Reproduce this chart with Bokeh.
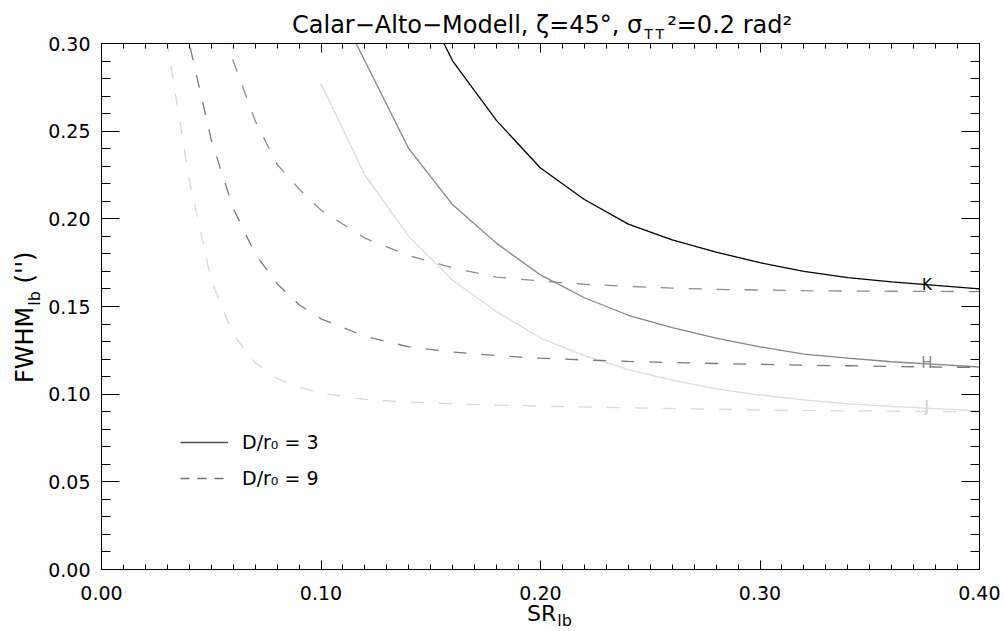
from bokeh.plotting import figure
from bokeh.layouts import column
from bokeh.models import (Range1d, LinearAxis, FixedTicker, Legend, LegendItem, Div,
                          PrintfTickFormatter, CustomJSTickFormatter)
from bokeh.embed import file_html
from bokeh.resources import INLINE
from bokeh.core.properties import value

FONT = "DejaVu Sans"

# ---------------- data ----------------
# D/r0 = 3 (solid)
sr_k3 = [0.14, 0.16, 0.18, 0.20, 0.22, 0.24, 0.26, 0.28, 0.30, 0.32, 0.34, 0.36, 0.38, 0.40]
fwhm_k3 = [0.340, 0.290, 0.256, 0.229, 0.211, 0.197, 0.188, 0.181, 0.175, 0.170, 0.1665, 0.164, 0.162, 0.160]

sr_h3 = [0.10, 0.12, 0.14, 0.16, 0.18, 0.20, 0.22, 0.24, 0.26, 0.28, 0.30, 0.32, 0.34, 0.36, 0.38, 0.40]
fwhm_h3 = [0.340, 0.290, 0.240, 0.208, 0.186, 0.168, 0.155, 0.145, 0.138, 0.132, 0.127, 0.1228, 0.1205, 0.1185, 0.117, 0.1155]

sr_j3 = [0.10, 0.12, 0.14, 0.16, 0.18, 0.20, 0.22, 0.24, 0.26, 0.28, 0.30, 0.32, 0.34, 0.36, 0.38, 0.40]
fwhm_j3 = [0.277, 0.225, 0.190, 0.165, 0.147, 0.132, 0.122, 0.114, 0.108, 0.103, 0.0995, 0.0967, 0.0945, 0.093, 0.0917, 0.0905]

# D/r0 = 9 (dashed)
sr_k9 = [0.04, 0.06, 0.07, 0.08, 0.09, 0.10, 0.12, 0.14, 0.16, 0.18, 0.20, 0.22, 0.24, 0.26, 0.28, 0.30, 0.32, 0.34, 0.36, 0.38, 0.40]
fwhm_k9 = [0.400, 0.290, 0.256, 0.231, 0.217, 0.205, 0.189, 0.179, 0.172, 0.1668, 0.1645, 0.1627, 0.1615, 0.1605, 0.1598, 0.1594, 0.159, 0.1588, 0.1587, 0.1586, 0.1585]

sr_h9 = [0.02, 0.04, 0.05, 0.06, 0.07, 0.08, 0.09, 0.10, 0.12, 0.14, 0.16, 0.18, 0.20, 0.22, 0.24, 0.26, 0.28, 0.30, 0.32, 0.34, 0.36, 0.38, 0.40]
fwhm_h9 = [0.600, 0.300, 0.245, 0.206, 0.180, 0.163, 0.151, 0.143, 0.133, 0.127, 0.124, 0.122, 0.1205, 0.1195, 0.1187, 0.118, 0.1175, 0.117, 0.1165, 0.1162, 0.1158, 0.1155, 0.1152]

sr_j9 = [0.02, 0.03, 0.04, 0.05, 0.06, 0.07, 0.08, 0.09, 0.10, 0.12, 0.14, 0.16, 0.18, 0.20, 0.22, 0.24, 0.26, 0.28, 0.30, 0.32, 0.34, 0.36, 0.38, 0.40]
fwhm_j9 = [0.430, 0.300, 0.222, 0.165, 0.134, 0.118, 0.109, 0.104, 0.1005, 0.0970, 0.0955, 0.0945, 0.0938, 0.0932, 0.0927, 0.0922, 0.0918, 0.0914, 0.0910, 0.0907, 0.0905, 0.0903, 0.0901, 0.0899]

band_names = ["K", "H", "J"]
band_label_x = [0.376, 0.376, 0.376]
band_label_y = [0.162, 0.1175, 0.0924]
band_colors = ["#000000", "#8a8a8a", "#d0d0d0"]

legend_labels = ["D/r\u2080 = 3", "D/r\u2080 = 9"]

x_major = [0.00, 0.10, 0.20, 0.30, 0.40]
x_minor = [0.00, 0.01, 0.02, 0.03, 0.04, 0.05, 0.06, 0.07, 0.08, 0.09, 0.10, 0.11, 0.12, 0.13,
           0.14, 0.15, 0.16, 0.17, 0.18, 0.19, 0.20, 0.21, 0.22, 0.23, 0.24, 0.25, 0.26, 0.27,
           0.28, 0.29, 0.30, 0.31, 0.32, 0.33, 0.34, 0.35, 0.36, 0.37, 0.38, 0.39, 0.40]
y_major = [0.00, 0.05, 0.10, 0.15, 0.20, 0.25, 0.30]
y_minor = [0.00, 0.01, 0.02, 0.03, 0.04, 0.05, 0.06, 0.07, 0.08, 0.09, 0.10, 0.11, 0.12, 0.13,
           0.14, 0.15, 0.16, 0.17, 0.18, 0.19, 0.20, 0.21, 0.22, 0.23, 0.24, 0.25, 0.26, 0.27,
           0.28, 0.29, 0.30]

# ---------------- figure ----------------
W, H = 1000, 629
p = figure(width=W, height=H, x_range=Range1d(0, 0.40), y_range=Range1d(0, 0.30),
           output_backend="svg", toolbar_location=None,
           x_axis_type=None, y_axis_type=None,
           min_border_left=101, min_border_right=21, min_border_top=43, min_border_bottom=60)
p.outline_line_color = None
p.background_fill_color = "white"
p.border_fill_color = "white"


def make_axis(ticker, major_len, minor_len, show_labels, standoff):
    if show_labels:
        fmt = PrintfTickFormatter(format="%.2f")
    else:
        fmt = CustomJSTickFormatter(code="return '';")
    ax = LinearAxis(ticker=ticker, formatter=fmt)
    ax.axis_line_color = "black"
    ax.axis_line_width = 1
    ax.major_tick_in = major_len
    ax.major_tick_out = 0
    ax.minor_tick_in = minor_len
    ax.minor_tick_out = 0
    ax.major_tick_line_color = "black"
    ax.minor_tick_line_color = "black"
    ax.major_label_text_font = FONT
    ax.major_label_text_color = "black"
    ax.major_label_text_font_size = "19px" if show_labels else "1px"
    ax.major_label_standoff = standoff
    return ax


xt = FixedTicker(ticks=x_major, minor_ticks=x_minor)
yt = FixedTicker(ticks=y_major, minor_ticks=y_minor)
p.add_layout(make_axis(xt, 9, 5, True, 16), "below")
p.add_layout(make_axis(xt, 9, 5, False, 0), "above")
p.add_layout(make_axis(yt, 18, 9, True, 11), "left")
p.add_layout(make_axis(yt, 18, 9, False, 0), "right")

# ---------------- curves ----------------
p.line(sr_k3, fwhm_k3, line_color="#000000", line_width=1.3)
p.line(sr_h3, fwhm_h3, line_color="#858585", line_width=1.3)
p.line(sr_j3, fwhm_j3, line_color="#dcdcdc", line_width=1.3)
p.line(sr_k9, fwhm_k9, line_color="#8c8c8c", line_width=1.3, line_dash="13 15")
p.line(sr_h9, fwhm_h9, line_color="#7a7a7a", line_width=1.3, line_dash="13 15")
p.line(sr_j9, fwhm_j9, line_color="#d8d8d8", line_width=1.3, line_dash="13 15")

p.text(x=band_label_x, y=band_label_y, text=band_names, text_color=band_colors,
       text_font=value(FONT), text_font_size="15px", text_align="center",
       text_baseline="alphabetic")

# ---------------- legend (hidden proxy renderers) ----------------
r3 = p.line(sr_k3, fwhm_k3, line_color="#505050", line_width=1.3, visible=False)
r9 = p.line(sr_k9, fwhm_k9, line_color="#707070", line_width=1.3, line_dash="9 8", visible=False)
legend = Legend(items=[LegendItem(label=legend_labels[0], renderers=[r3]),
                       LegendItem(label=legend_labels[1], renderers=[r9])],
                location=(79, 80), orientation="vertical", padding=0, margin=0,
                spacing=14, glyph_width=48, glyph_height=20, label_standoff=14,
                label_height=20, label_text_font=FONT, label_text_font_size="19px",
                label_text_color="black", border_line_color=None,
                background_fill_alpha=0)
p.add_layout(legend)

# ---------------- title & axis titles as HTML text overlay ----------------
base = ("display:block;height:0;width:max-content;white-space:nowrap;"
        "font-family:'DejaVu Sans';color:black;transform-origin:0 0;")
title_html = (
    f'<div style="{base}font-size:24px;line-height:24px;transform:translate(287px,12.7px);">'
    'Calar\u2212Alto\u2212Modell, \u03b6=45\u00b0, \u03c3'
    '<span style="font-size:14px;position:relative;top:6px;letter-spacing:3px;margin-left:2px;">TT</span>'
    '\u00b2=0.2 rad\u00b2</div>'
)
ylab_html = (
    f'<div style="{base}font-size:24px;line-height:24px;transform:translate(7.7px,383px) rotate(-90deg);">'
    'FWHM<span style="font-size:16px;position:relative;top:7px;margin-left:1px;">lb</span> (&#39;&#39;)</div>'
)
xlab_html = (
    f'<div style="{base}font-size:22px;line-height:22px;transform:translate(522px,603.4px);">'
    'SR<span style="font-size:16px;position:relative;top:5px;margin-left:1px;">lb</span></div>'
)
overlay = Div(text=title_html + ylab_html + xlab_html, width=W, height=H,
              styles={"margin-top": f"-{H}px", "padding": "0", "background": "transparent"})

layout = column(p, overlay, spacing=0)
open("out.html", "w").write(file_html(layout, INLINE))
